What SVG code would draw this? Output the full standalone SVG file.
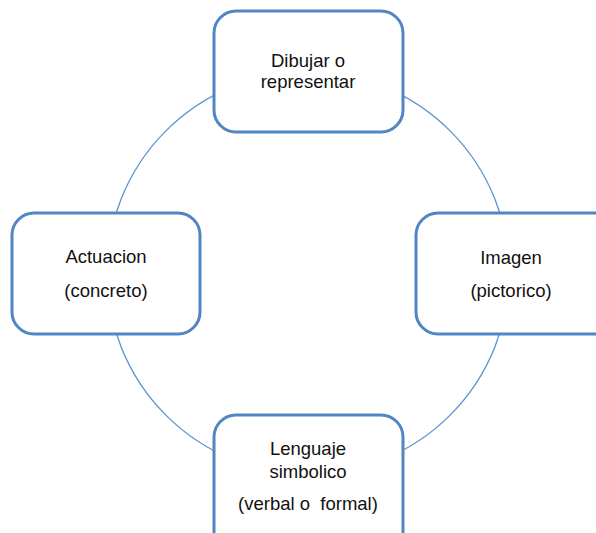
<svg xmlns="http://www.w3.org/2000/svg" width="596" height="533" viewBox="0 0 596 533">
<style>
.box{fill:#fff;stroke:#5185c3;stroke-width:3}
.ring{fill:none;stroke:#5b92d0;stroke-width:1.3}
text{font-family:"Liberation Sans",Arial,sans-serif;font-size:18.5px;fill:#111;text-anchor:middle;white-space:pre}
</style>
<rect width="596" height="533" fill="#fff"/>
<g id="connectors">
<circle class="ring" cx="308" cy="273" r="201"/>
</g>
<g id="node-top">
<rect class="box" x="214" y="11" width="189" height="121" rx="22"/>
<text x="308" y="67">Dibujar o</text>
<text x="308" y="88">representar</text>
</g>
<g id="node-left">
<rect class="box" x="12" y="213" width="188" height="121" rx="22"/>
<text x="106" y="263">Actuacion</text>
<text x="106" y="297">(concreto)</text>
</g>
<g id="node-right">
<rect class="box" x="416" y="213" width="200" height="121" rx="22"/>
<text x="511" y="264">Imagen</text>
<text x="511" y="297">(pictorico)</text>
</g>
<g id="node-bottom">
<rect class="box" x="214" y="415" width="189" height="140" rx="22"/>
<text x="308" y="455">Lenguaje</text>
<text x="308" y="478">simbolico</text>
<text x="308" y="510">(verbal o  formal)</text>
</g>
</svg>
